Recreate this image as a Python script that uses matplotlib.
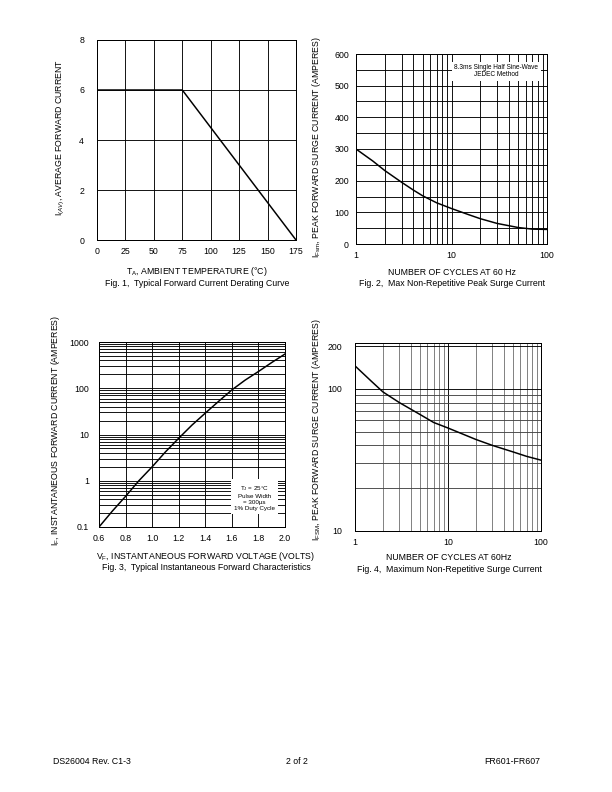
import matplotlib
matplotlib.use("Agg")
import matplotlib.pyplot as plt
from matplotlib.ticker import FixedLocator, NullFormatter, NullLocator

plt.rcParams['font.family'] = ['Liberation Sans', 'DejaVu Sans']
plt.rcParams['mathtext.fontset'] = 'custom'
plt.rcParams['mathtext.rm'] = 'Liberation Sans'
plt.rcParams['mathtext.it'] = 'Liberation Sans:italic'
plt.rcParams['mathtext.bf'] = 'Liberation Sans:bold'

# ---------------- data ----------------
# Fig 1: derating curve
fig1_temp = [0, 75, 175]
fig1_current = [6, 6, 0]
fig1_xticks = [0, 25, 50, 75, 100, 125, 150, 175]
fig1_yticks = [0, 2, 4, 6, 8]

# Fig 2: max non-repetitive peak surge current
fig2_cycles = [1, 1.5, 2, 3, 4, 5, 7, 10, 15, 20, 30, 50, 70, 100]
fig2_current = [300, 262, 232, 195, 170, 152, 130, 112, 93, 80, 65, 52, 47, 46]
fig2_yticks = [0, 100, 200, 300, 400, 500, 600]

# Fig 3: forward characteristics
fig3_volts = [0.6, 0.7, 0.8, 0.9, 1.0, 1.1, 1.2, 1.3, 1.4, 1.5, 1.6, 1.7, 1.8, 1.9, 2.0]
fig3_current = [0.1, 0.22, 0.46, 1.0, 2.0, 4.2, 8.3, 16, 29, 52, 92, 150, 230, 360, 550]
fig3_xticks = [0.6, 0.8, 1.0, 1.2, 1.4, 1.6, 1.8, 2.0]
fig3_yticks = [0.1, 1, 10, 100, 1000]
fig3_yticklabels = ["0.1", "1", "10", "100", "1000"]

# Fig 4: maximum non-repetitive surge current
fig4_cycles = [1, 1.5, 2, 3, 5, 7, 10, 20, 30, 50, 70, 100]
fig4_current = [145, 113, 95, 80, 66, 58, 53, 44, 40, 36, 33.5, 31.5]
fig4_yticks = [10, 100, 200]

W, H = 612, 792
fig = plt.figure(figsize=(W / 72, H / 72), dpi=72)

FS = 8.8     # labels / captions
TFS = 8.8    # tick labels


def add_ax(x0, y0, x1, y1):
    return fig.add_axes([x0 / W, 1 - y1 / H, (x1 - x0) / W, (y1 - y0) / H])


def ftext(x, y, s, **kw):
    kw.setdefault('fontsize', FS)
    kw.setdefault('ha', 'center')
    kw.setdefault('va', 'center')
    fig.text(x / W, 1 - y / H, s, **kw)


def style(ax, ypad=10):
    for sp in ax.spines.values():
        sp.set_linewidth(1.0)
        sp.set_color('black')
    ax.tick_params(axis='both', which='both', length=0, labelsize=TFS)
    ax.tick_params(axis='x', pad=7)
    ax.tick_params(axis='y', pad=ypad)
    ax.set_axisbelow(True)


# ---------------- Fig 1 ----------------
ax1 = add_ax(97, 40, 296, 240)
ax1.set_xlim(0, 175)
ax1.set_ylim(0, 8)
ax1.set_xticks(fig1_xticks)
ax1.set_yticks(fig1_yticks)
ax1.grid(True, color='black', linewidth=0.9)
ax1.plot(fig1_temp, fig1_current, color='black', linewidth=1.5)
style(ax1, ypad=13)
ftext(197, 271.5, r"T$_\mathregular{A}$, AMBIENT TEMPERATURE (°C)")
ftext(197, 283.5, "Fig. 1,  Typical Forward Current Derating Curve")
ftext(60, 138, r"I$_{\mathit{(AV)}}$, AVERAGE FORWARD CURRENT", rotation=90)

# ---------------- Fig 2 ----------------
ax2 = add_ax(356, 54, 547, 244)
ax2.set_xscale('log')
ax2.set_xlim(1, 100)
ax2.set_ylim(0, 600)
ax2.set_xticks([1, 10, 100])
ax2.set_xticklabels(["1", "10", "100"])
ax2.xaxis.set_minor_locator(FixedLocator([2, 3, 4, 5, 6, 7, 8, 9, 20, 30, 40, 50, 60, 70, 80, 90]))
ax2.xaxis.set_minor_formatter(NullFormatter())
ax2.set_yticks(fig2_yticks)
ax2.yaxis.set_minor_locator(FixedLocator([50, 150, 250, 350, 450, 550]))
ax2.grid(True, which='both', color='black', linewidth=0.9)
ax2.plot(fig2_cycles, fig2_current, color='black', linewidth=1.5)
style(ax2, ypad=7)
ax2.text(0.735, 0.945, "8.3ms Single Half Sine-Wave\nJEDEC Method", transform=ax2.transAxes,
         ha='center', va='top', fontsize=6.5, linespacing=1.0,
         bbox=dict(facecolor='white', edgecolor='none', pad=2.5))
ftext(452, 272.5, "NUMBER OF CYCLES AT 60 Hz")
ftext(452, 284, "Fig. 2,  Max Non-Repetitive Peak Surge Current")
ftext(316, 147, r"I$_\mathregular{Fsm}$, PEAK FORWARD SURGE CURRENT (AMPERES)", rotation=90)

# ---------------- Fig 3 ----------------
ax3 = add_ax(99, 342, 285, 527)
ax3.set_yscale('log')
ax3.set_xlim(0.6, 2.0)
ax3.set_ylim(0.1, 1000)
ax3.set_xticks(fig3_xticks)
ax3.set_xticklabels(["%.1f" % v for v in fig3_xticks])
ax3.set_yticks(fig3_yticks)
ax3.set_yticklabels(fig3_yticklabels)
ax3.yaxis.set_minor_locator(FixedLocator([m * d for d in [0.1, 1, 10, 100] for m in range(2, 10)]))
ax3.yaxis.set_minor_formatter(NullFormatter())
ax3.xaxis.set_minor_locator(NullLocator())
ax3.grid(True, which='both', color='black', linewidth=0.9)
ax3.plot(fig3_volts, fig3_current, color='black', linewidth=1.5)
style(ax3, ypad=10)
ax3.text(0.835, 0.085, "T$_\\mathregular{J}$ = 25°C\nPulse Width\n= 300µs\n1% Duty Cycle",
         transform=ax3.transAxes, ha='center', va='bottom', fontsize=6.2, linespacing=1.3,
         bbox=dict(facecolor='white', edgecolor='none', pad=3))
ftext(206, 556.5, r"V$_\mathregular{F}$, INSTANTANEOUS FORWARD VOLTAGE (VOLTS)")
ftext(206, 568, "Fig. 3,  Typical Instantaneous Forward Characteristics")
ftext(56, 430, r"I$_\mathregular{F}$, INSTANTANEOUS FORWARD CURRENT (AMPERES)", rotation=90)

# ---------------- Fig 4 ----------------
ax4 = add_ax(355, 343, 541, 531)
ax4.set_xscale('log')
ax4.set_yscale('log')
ax4.set_xlim(1, 100)
ax4.set_ylim(10, 210)
ax4.set_xticks([1, 10, 100])
ax4.set_xticklabels(["1", "10", "100"])
ax4.xaxis.set_minor_locator(FixedLocator([2, 3, 4, 5, 6, 7, 8, 9, 20, 30, 40, 50, 60, 70, 80, 90]))
ax4.xaxis.set_minor_formatter(NullFormatter())
ax4.set_yticks(fig4_yticks)
ax4.set_yticklabels([str(v) for v in fig4_yticks])
ax4.yaxis.set_minor_locator(FixedLocator([20, 30, 40, 50, 60, 70, 80, 90]))
ax4.yaxis.set_minor_formatter(NullFormatter())
ax4.grid(True, which='major', axis='x', color='black', linewidth=0.9)
ax4.grid(True, which='minor', axis='x', color='#777777', linewidth=0.9)
ax4.grid(True, which='minor', axis='y', color='#444444', linewidth=0.9)
ax4.grid(True, which='major', axis='y', color='black', linewidth=0.9)
ax4.plot(fig4_cycles, fig4_current, color='black', linewidth=1.5)
style(ax4, ypad=13)
ftext(449, 558, "NUMBER OF CYCLES AT 60Hz")
ftext(449, 569.5, "Fig. 4,  Maximum Non-Repetitive Surge Current")
ftext(316, 430, r"I$_\mathregular{FSM}$, PEAK FORWARD SURGE CURRENT (AMPERES)", rotation=90)

# ---------------- footer ----------------
ftext(53, 761, "DS26004 Rev. C1-3", ha='left')
ftext(297, 761, "2 of 2")
ftext(540, 761, "FR601-FR607", ha='right')

fig.savefig("out.png", dpi=72)
